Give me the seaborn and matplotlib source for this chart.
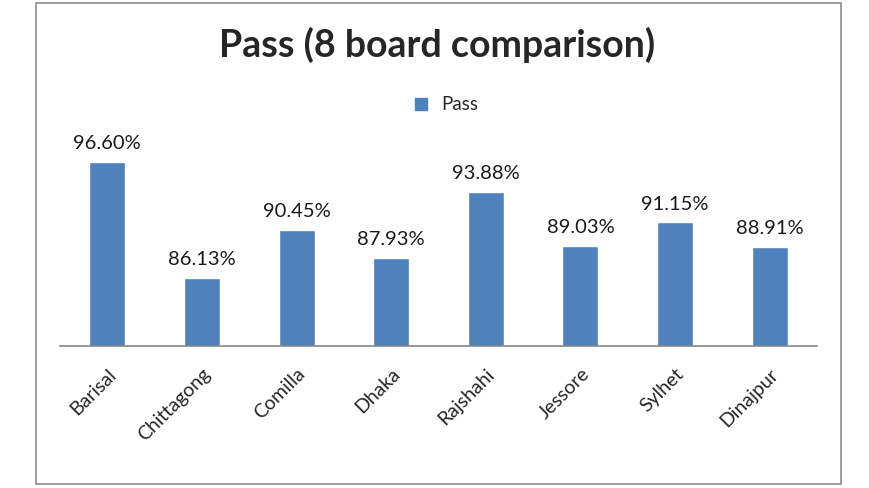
import seaborn as sns
import pandas as pd
import matplotlib.pyplot as plt
from matplotlib.patches import Rectangle
from matplotlib.lines import Line2D

# Pass rate for each board (percent)
boards = ['Barisal', 'Chittagong', 'Comilla', 'Dhaka',
          'Rajshahi', 'Jessore', 'Sylhet', 'Dinajpur']
pass_rate = [96.60, 86.13, 90.45, 87.93, 93.88, 89.03, 91.15, 88.91]

data = pd.DataFrame({'Board': boards, 'Pass': pass_rate})

sns.set_style('white')
plt.rcParams['font.family'] = ['Lato', 'DejaVu Sans']

fig = plt.figure(figsize=(8.7, 4.88), dpi=100)
W, H = 870, 488

# chart border like the spreadsheet chart area
fig.patches.append(Rectangle((36 / W, 1 - 484 / H), 805 / W, 481 / H,
                             transform=fig.transFigure, fill=False,
                             edgecolor='#8c8c8c', linewidth=1.2))

ax = fig.add_axes([60 / W, 1 - 346 / H, 757 / W, 222 / H])
sns.barplot(x='Board', y='Pass', data=data, color='#4F81BD',
            width=0.38, saturation=1, ax=ax)
ax.set_ylim(80, 100)
ax.set_xlim(-0.5, len(boards) - 0.5)

for c in ax.containers:
    ax.bar_label(c, fmt='%.2f%%', padding=7, fontsize=14.5, color='#1a1a1a')

ax.set_xlabel('')
ax.set_ylabel('')
ax.set_yticks([])
for s in ['top', 'right', 'left']:
    ax.spines[s].set_visible(False)
ax.spines['bottom'].set_color('#868686')
ax.spines['bottom'].set_linewidth(1.2)
ax.tick_params(axis='x', length=0, pad=14)
plt.setp(ax.get_xticklabels(), rotation=45, ha='right',
         rotation_mode='anchor', fontsize=14, color='#262626')

fig.text(437 / W, 1 - 45 / H, 'Pass (8 board comparison)',
         ha='center', va='center', fontsize=27, fontweight='bold')

handle = Line2D([], [], marker='s', linestyle='', markersize=8.5,
                markerfacecolor='#4F81BD', markeredgecolor='#4F81BD')
fig.legend([handle], ['Pass'], loc='center', bbox_to_anchor=(440 / W, 1 - 105 / H),
           frameon=False, fontsize=13.5, handletextpad=0.1, borderpad=0)

fig.savefig('out.png', dpi=100)
